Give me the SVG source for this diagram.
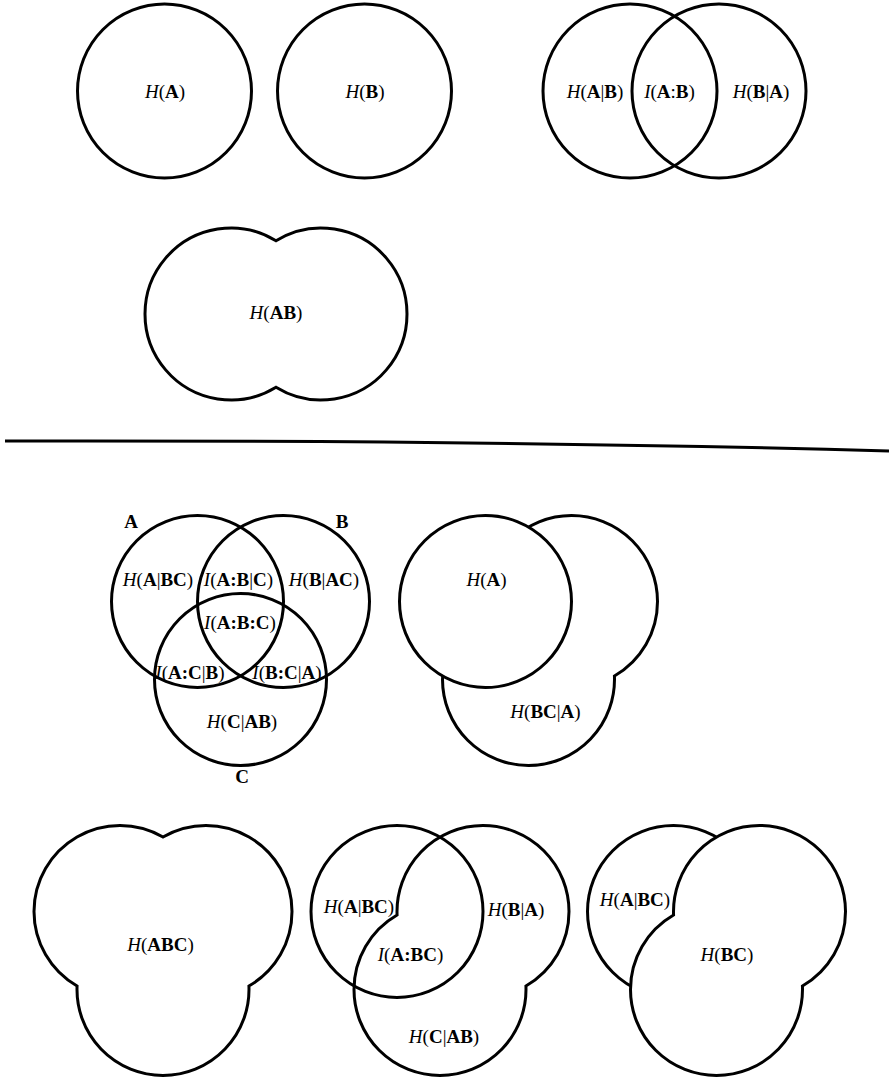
<svg xmlns="http://www.w3.org/2000/svg" width="889" height="1077" viewBox="0 0 889 1077">
<style>
.c{fill:none;stroke:#000;stroke-width:3}
.w{fill:#fff;stroke:#000;stroke-width:3}
text{font-family:"Liberation Serif","Times New Roman",serif;font-size:19px;text-anchor:middle;fill:#000}
.i{font-style:italic}
.b{font-weight:bold}
</style>
<rect width="889" height="1077" fill="#fff"/>
<g id="fig-HA">
<circle class="c" cx="164.5" cy="91" r="87"/>
<text x="165" y="98"><tspan class="i">H</tspan>(<tspan class="b">A</tspan>)</text>
</g>
<g id="fig-HB">
<circle class="c" cx="364.5" cy="91" r="87"/>
<text x="365" y="98"><tspan class="i">H</tspan>(<tspan class="b">B</tspan>)</text>
</g>
<g id="fig-venn2">
<circle class="c" cx="630" cy="91" r="87"/>
<circle class="c" cx="719" cy="91" r="87"/>
<text x="595" y="98"><tspan class="i">H</tspan>(<tspan class="b">A</tspan>|<tspan class="b">B</tspan>)</text>
<text x="669.5" y="98"><tspan class="i">I</tspan>(<tspan class="b">A</tspan>:<tspan class="b">B</tspan>)</text>
<text x="761" y="98"><tspan class="i">H</tspan>(<tspan class="b">B</tspan>|<tspan class="b">A</tspan>)</text>
</g>
<g id="fig-HAB">
<path class="c" d="M276 240.71A86 86 0 1 1 276 387.29A86 86 0 1 1 276 240.71Z"/>
<text x="276" y="319"><tspan class="i">H</tspan>(<tspan class="b">AB</tspan>)</text>
</g>
<g id="divider">
<path class="c" d="M5 441Q500 440 889 451"/>
</g>
<g id="fig-venn3">
<circle class="c" cx="197.5" cy="601.5" r="86"/>
<circle class="c" cx="283.5" cy="601.5" r="86"/>
<circle class="c" cx="240.5" cy="679.5" r="86"/>
<text class="b" x="131" y="528">A</text>
<text class="b" x="342" y="528">B</text>
<text class="b" x="242" y="783">C</text>
<text x="158" y="586"><tspan class="i">H</tspan>(<tspan class="b">A</tspan>|<tspan class="b">BC</tspan>)</text>
<text x="238.5" y="586"><tspan class="i">I</tspan>(<tspan class="b">A:B</tspan>|<tspan class="b">C</tspan>)</text>
<text x="324" y="586"><tspan class="i">H</tspan>(<tspan class="b">B</tspan>|<tspan class="b">AC</tspan>)</text>
<text x="240" y="629"><tspan class="i">I</tspan>(<tspan class="b">A:B:C</tspan>)</text>
<text x="190" y="679"><tspan class="i">I</tspan>(<tspan class="b">A:C</tspan>|<tspan class="b">B</tspan>)</text>
<text x="287" y="679"><tspan class="i">I</tspan>(<tspan class="b">B:C</tspan>|<tspan class="b">A</tspan>)</text>
<text x="242" y="728"><tspan class="i">H</tspan>(<tspan class="b">C</tspan>|<tspan class="b">AB</tspan>)</text>
</g>
<g id="fig-HA-HBCgA">
<path class="w" d="M485.57 604.98A86 86 0 0 1 571.5 515.5A86 86 0 0 1 657.5 601.5A86 86 0 0 1 614.43 676.02A86 86 0 0 1 528.5 765.5A86 86 0 0 1 442.5 679.5A86 86 0 0 1 485.57 604.98Z"/>
<circle class="w" cx="485.5" cy="601.5" r="86"/>
<text x="486.5" y="586"><tspan class="i">H</tspan>(<tspan class="b">A</tspan>)</text>
<text x="545.5" y="718"><tspan class="i">H</tspan>(<tspan class="b">BC</tspan>|<tspan class="b">A</tspan>)</text>
</g>
<g id="fig-HABC">
<path class="c" d="M163 837.02A86 86 0 0 1 292 911.5A86 86 0 0 1 248.93 986.02A86 86 0 0 1 163 1075.5A86 86 0 0 1 77.07 986.02A86 86 0 0 1 34 911.5A86 86 0 0 1 163 837.02Z"/>
<text x="160.5" y="951"><tspan class="i">H</tspan>(<tspan class="b">ABC</tspan>)</text>
</g>
<g id="fig-IABC">
<path class="w" d="M397.07 914.98A86 86 0 0 1 483 825.5A86 86 0 0 1 569 911.5A86 86 0 0 1 525.93 986.02A86 86 0 0 1 440 1075.5A86 86 0 0 1 354 989.5A86 86 0 0 1 397.07 914.98Z"/>
<circle class="c" cx="397" cy="911.5" r="86"/>
<text x="359" y="913"><tspan class="i">H</tspan>(<tspan class="b">A</tspan>|<tspan class="b">BC</tspan>)</text>
<text x="516" y="916"><tspan class="i">H</tspan>(<tspan class="b">B</tspan>|<tspan class="b">A</tspan>)</text>
<text x="410.5" y="961"><tspan class="i">I</tspan>(<tspan class="b">A:BC</tspan>)</text>
<text x="444" y="1043"><tspan class="i">H</tspan>(<tspan class="b">C</tspan>|<tspan class="b">AB</tspan>)</text>
</g>
<g id="fig-HBC">
<circle class="w" cx="673.5" cy="911.5" r="86"/>
<path class="w" d="M673.57 914.98A86 86 0 0 1 759.5 825.5A86 86 0 0 1 845.5 911.5A86 86 0 0 1 802.43 986.02A86 86 0 0 1 716.5 1075.5A86 86 0 0 1 630.5 989.5A86 86 0 0 1 673.57 914.98Z"/>
<text x="635" y="906"><tspan class="i">H</tspan>(<tspan class="b">A</tspan>|<tspan class="b">BC</tspan>)</text>
<text x="727" y="961"><tspan class="i">H</tspan>(<tspan class="b">BC</tspan>)</text>
</g>
</svg>
